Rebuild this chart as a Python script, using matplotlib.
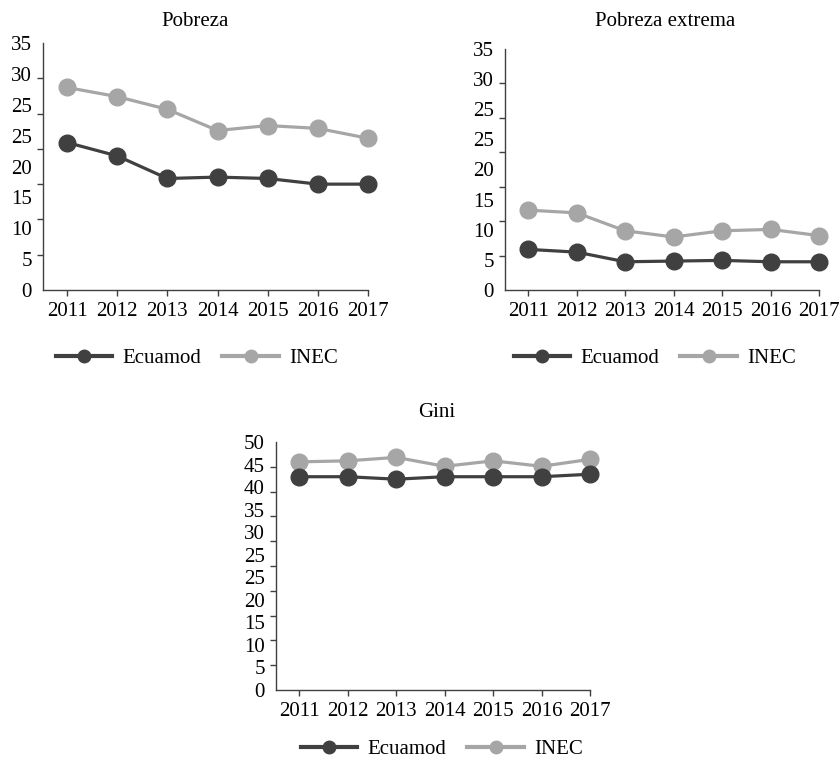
import numpy as np
import matplotlib.pyplot as plt
from matplotlib.lines import Line2D

plt.rcParams['font.family'] = ['Liberation Serif', 'DejaVu Serif']

years = [2011, 2012, 2013, 2014, 2015, 2016, 2017]

pobreza_ecuamod = [20.9, 19.0, 15.8, 16.0, 15.8, 15.0, 15.0]
pobreza_inec = [28.7, 27.4, 25.6, 22.6, 23.3, 22.9, 21.5]

extrema_ecuamod = [5.9, 5.5, 4.1, 4.2, 4.3, 4.1, 4.1]
extrema_inec = [11.6, 11.2, 8.6, 7.7, 8.6, 8.8, 7.9]

gini_ecuamod = [43.0, 43.0, 42.5, 43.0, 43.0, 43.0, 43.5]
gini_inec = [46.0, 46.2, 46.9, 45.1, 46.2, 45.1, 46.5]

# tick labels as printed in the source (with the repeated 25)
ylabels_35 = ['0', '5', '10', '15', '20', '25', '25', '30', '35']
ylabels_50 = ['0', '5', '10', '15', '20', '25', '25', '30', '35', '40', '45', '50']

dark = '#404040'
light = '#a6a6a6'
fs = 15

W, H = 839, 759
fig = plt.figure(figsize=(W / 100, H / 100), dpi=100)


def px_axes(x0, y0, x1, y1):
    # pixel box (left, top, right, bottom) -> figure fractions
    return fig.add_axes([x0 / W, 1 - y1 / H, (x1 - x0) / W, (y1 - y0) / H])


def draw_panel(ax, ecu, inec, ymax, labels):
    x = np.arange(len(years))
    ax.plot(x, ecu, color=dark, lw=2.3, marker='o', ms=12, zorder=3, clip_on=False)
    ax.plot(x, inec, color=light, lw=2.3, marker='o', ms=12, zorder=2, clip_on=False)
    ax.set_xlim(-0.48, len(years) - 1)
    ax.set_ylim(0, ymax)
    ax.set_xticks(x)
    ax.set_xticklabels([str(y) for y in years], fontsize=fs)
    ax.tick_params(axis='x', length=4, width=1, color='#404040', pad=5)
    # real ticks every 5 as minor, labels spread evenly as major
    ax.set_yticks(np.arange(0, ymax + 1, 5), minor=True)
    ax.set_yticks(np.linspace(0, ymax, len(labels)))
    ax.set_yticklabels(labels, fontsize=fs)
    ax.tick_params(axis='y', which='major', length=0, pad=8)
    ax.tick_params(axis='y', which='minor', length=4, width=1, color='#404040')
    for s in ['top', 'right']:
        ax.spines[s].set_visible(False)
    for s in ['left', 'bottom']:
        ax.spines[s].set_color('#404040')
        ax.spines[s].set_linewidth(1)


ax1 = px_axes(43, 43, 368, 290)
draw_panel(ax1, pobreza_ecuamod, pobreza_inec, 35, ylabels_35)
ax2 = px_axes(505, 49, 819, 290)
draw_panel(ax2, extrema_ecuamod, extrema_inec, 35, ylabels_35)
ax3 = px_axes(276, 442, 590, 690)
draw_panel(ax3, gini_ecuamod, gini_inec, 50, ylabels_50)

fig.text(195 / W, 1 - 22 / H, 'Pobreza', ha='center', va='center', fontsize=fs)
fig.text(665 / W, 1 - 22 / H, 'Pobreza extrema', ha='center', va='center', fontsize=fs)
fig.text(437 / W, 1 - 412 / H, 'Gini', ha='center', va='center', fontsize=fs)

handles = [Line2D([], [], color=dark, lw=3, marker='o', ms=9),
           Line2D([], [], color=light, lw=3, marker='o', ms=9)]
names = ['Ecuamod', 'INEC']
for cx, cy in [(197, 358), (655, 358), (442, 749)]:
    fig.legend(handles, names, loc='center', bbox_to_anchor=(cx / W, 1 - cy / H),
               ncol=2, frameon=False, fontsize=fs, handlelength=2.7,
               columnspacing=1.0, handletextpad=0.5, borderpad=0)

fig.savefig('out.png', dpi=100)
